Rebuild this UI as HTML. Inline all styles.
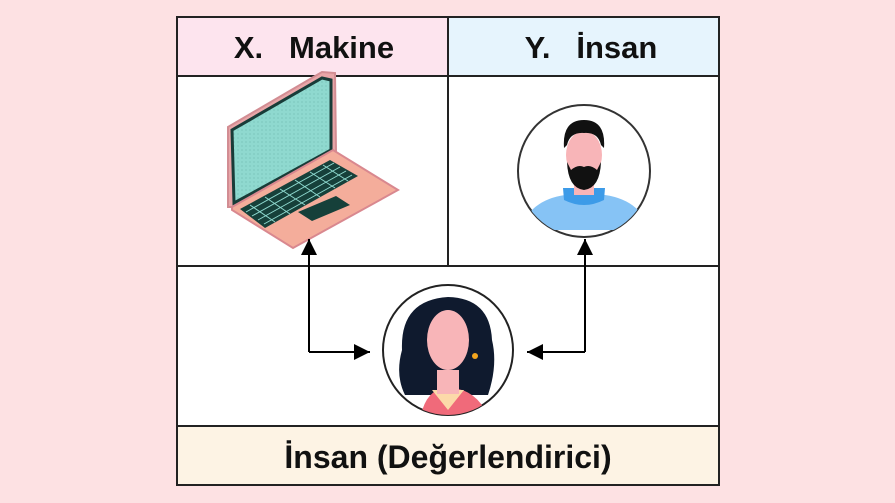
<!DOCTYPE html>
<html><head><meta charset="utf-8"><style>
html,body{margin:0;padding:0}
body{width:895px;height:503px;background:#fde1e3;position:relative;overflow:hidden;font-family:"Liberation Sans",sans-serif}
</style></head><body>
<svg width="895" height="503" viewBox="0 0 895 503" style="position:absolute;left:0;top:0">
<defs>
<marker id="ah" markerWidth="18" markerHeight="18" refX="16" refY="8" orient="auto" markerUnits="userSpaceOnUse"><path d="M0,0 L16,8 L0,16 z" fill="#000"/></marker>
<pattern id="dots" width="4" height="4" patternUnits="userSpaceOnUse"><rect width="4" height="4" fill="#8fd9cf"/><circle cx="2" cy="2" r="0.6" fill="#6fb9ae"/></pattern>
<clipPath id="cm"><circle cx="584" cy="171" r="66"/></clipPath>
<clipPath id="cw"><circle cx="448" cy="350" r="65"/></clipPath>
</defs>
<rect x="177" y="17" width="542" height="468" fill="#fff" stroke="#222" stroke-width="2"/>
<rect x="178" y="18" width="270" height="58" fill="#fde4ee"/>
<rect x="448" y="18" width="270" height="58" fill="#e6f4fd"/>
<rect x="178" y="427" width="540" height="57" fill="#fdf3e4"/>
<g stroke="#222" stroke-width="2" fill="none">
<line x1="177" y1="76" x2="719" y2="76"/>
<line x1="448" y1="17" x2="448" y2="266"/>
<line x1="177" y1="266" x2="719" y2="266"/>
<line x1="177" y1="426" x2="719" y2="426"/>
</g>
<text x="314" y="58" font-size="31" font-weight="bold" text-anchor="middle" fill="#111" xml:space="preserve">X.   Makine</text>
<text x="591" y="58" font-size="31" font-weight="bold" text-anchor="middle" fill="#111" xml:space="preserve">Y.   İnsan</text>
<text x="448" y="468" font-size="32" font-weight="bold" text-anchor="middle" fill="#111">İnsan (Değerlendirici)</text>
<!-- laptop -->
<polygon points="228,127 322,72 335,73 336,152 238,207 228,207" fill="#e8a6a8" stroke="#d28d93" stroke-width="2"/>
<polygon points="232,130 322,78 331,80 331,150 234,203" fill="url(#dots)" stroke="#183c38" stroke-width="3"/>
<polygon points="232,207 333,150 398,190 293,248 232,210" fill="#f4ad9b" stroke="#d9888f" stroke-width="2"/>
<polygon points="240,209 330,160 358,176 265,228" fill="#16403a"/>
<g stroke="#8fd9cf" stroke-width="1">
<line x1="246" y1="212" x2="334" y2="163"/><line x1="252" y1="216" x2="340" y2="167"/><line x1="258" y1="220" x2="346" y2="171"/><line x1="264" y1="224" x2="352" y2="175"/>
<line x1="250" y1="205" x2="275" y2="222"/><line x1="265" y1="197" x2="290" y2="214"/><line x1="280" y1="189" x2="305" y2="205"/><line x1="295" y1="180" x2="320" y2="197"/><line x1="310" y1="172" x2="335" y2="188"/><line x1="323" y1="165" x2="348" y2="181"/>
</g>
<polygon points="298,212 336,196 350,205 312,221" fill="#16403a"/>
<!-- man -->
<circle cx="584" cy="171" r="66" fill="#fff" stroke="#333" stroke-width="2"/>
<g clip-path="url(#cm)">
<path d="M520,230 Q530,200 565,195 L605,195 Q640,200 650,230 Z" fill="#86c3f5"/>
<path d="M563,188 L605,188 L604,200 Q584,210 564,200 Z" fill="#3d9be8"/>
<rect x="574" y="170" width="20" height="25" fill="#f8b5b8"/>
<ellipse cx="584" cy="155" rx="18" ry="24" fill="#f8b5b8"/>
<path d="M564,148 Q562,120 584,120 Q606,120 604,148 L601,145 Q598,132 584,133 Q570,132 567,145 Z" fill="#111"/>
<path d="M567,162 Q568,188 584,190 Q600,188 601,162 L597,170 Q590,164 584,167 Q578,164 571,170 Z" fill="#111"/>
</g>
<!-- woman -->
<circle cx="448" cy="350" r="65" fill="#fff" stroke="#222" stroke-width="2"/>
<g clip-path="url(#cw)">
<path d="M405,395 Q395,375 402,350 Q400,300 448,297 Q490,298 492,340 Q498,365 488,395 Z" fill="#0f1a2e"/>
<path d="M420,420 Q425,390 445,388 L452,388 Q478,390 490,420 Z" fill="#f06a7a"/>
<path d="M432,390 L448,410 L464,390 Z" fill="#fcd9a9"/>
<rect x="437" y="370" width="22" height="24" fill="#f8b5b8"/>
<ellipse cx="448" cy="340" rx="21" ry="30" fill="#f8b5b8"/>
<circle cx="475" cy="356" r="3" fill="#f3a51e"/>
</g>
<!-- arrows -->
<g stroke="#000" stroke-width="2" fill="none">
<polyline points="309,352 309,239" marker-end="url(#ah)"/>
<polyline points="309,352 370,352" marker-end="url(#ah)"/>
<polyline points="585,352 585,239" marker-end="url(#ah)"/>
<polyline points="585,352 527,352" marker-end="url(#ah)"/>
</g>
</svg>
</body></html>
